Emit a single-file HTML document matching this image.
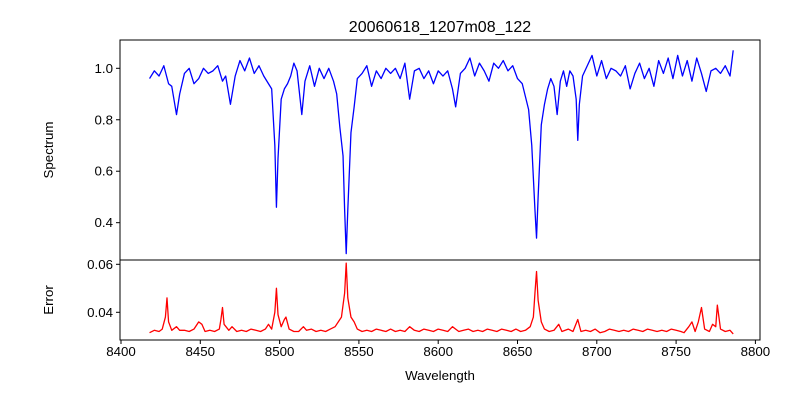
<!DOCTYPE html>
<html><head><meta charset="utf-8"><style>
html,body{margin:0;padding:0;background:#fff;}
svg{display:block;font-family:"Liberation Sans","DejaVu Sans",sans-serif;}
</style></head><body>
<svg id="chart" width="800" height="400" viewBox="0 0 800 400">
<rect width="800" height="400" fill="#fff"/>
<text x="440" y="32" text-anchor="middle" font-size="16">20060618_1207m08_122</text>
<g id="topPanel"></g>
<g id="botPanel"></g>
<text x="440" y="380" text-anchor="middle" font-size="13.3">Wavelength</text>
<text transform="translate(53,150) rotate(-90)" text-anchor="middle" font-size="13.3">Spectrum</text>
<text transform="translate(53,300) rotate(-90)" text-anchor="middle" font-size="13.3">Error</text>
</svg>
<script>
const wave=[8418,8421,8424,8427,8430,8432,8435,8437,8440,8443,8446,8449,8452,8455,8458,8461,8464,8466,8469,8472,8475,8478,8481,8484,8487,8490,8493,8495,8497,8498,8499,8501,8503,8505,8507,8509,8511,8514,8516,8519,8522,8525,8528,8531,8534,8536,8538,8540,8541,8542,8543,8545,8547,8549,8552,8555,8558,8561,8564,8567,8570,8573,8576,8579,8582,8585,8588,8591,8594,8597,8600,8603,8606,8609,8611,8614,8617,8620,8623,8626,8629,8632,8635,8638,8641,8644,8647,8650,8653,8655,8657,8659,8661,8662,8663,8665,8667,8669,8671,8673,8675,8677,8679,8681,8683,8685,8687,8688,8689,8691,8694,8697,8700,8703,8706,8709,8712,8715,8718,8721,8724,8727,8730,8733,8736,8739,8742,8745,8748,8751,8754,8757,8760,8763,8766,8769,8772,8775,8778,8781,8784,8786];
const flux=[0.96,0.99,0.97,1.01,0.94,0.93,0.82,0.90,0.98,1.00,0.94,0.96,1.00,0.98,0.99,1.01,0.95,0.97,0.86,0.97,1.03,0.99,1.04,0.98,1.01,0.97,0.94,0.92,0.70,0.46,0.65,0.88,0.92,0.94,0.97,1.02,0.99,0.82,0.95,1.01,0.93,1.00,0.96,1.00,0.95,0.90,0.77,0.66,0.45,0.28,0.45,0.75,0.85,0.96,0.98,1.01,0.93,0.99,0.96,1.00,0.98,1.00,0.96,1.02,0.88,0.99,1.00,0.96,0.99,0.94,0.99,0.97,0.99,0.92,0.85,0.98,1.00,1.04,0.97,1.02,0.99,0.95,1.02,1.00,1.03,0.99,1.01,0.96,0.94,0.89,0.84,0.70,0.45,0.34,0.50,0.78,0.86,0.92,0.96,0.93,0.82,0.95,0.99,0.93,0.99,0.97,0.88,0.72,0.86,0.97,1.01,1.05,0.97,1.03,0.96,1.00,0.99,0.97,1.01,0.92,0.98,1.02,0.96,1.00,0.93,1.03,0.98,1.04,0.96,1.05,0.97,1.03,0.95,1.04,0.98,0.91,0.99,1.00,0.98,1.01,0.97,1.07];
const errWave=[8418,8421,8424,8426,8428,8429,8430,8432,8435,8437,8440,8443,8446,8449,8451,8453,8456,8459,8462,8463,8464,8465,8468,8470,8473,8476,8479,8482,8485,8488,8491,8493,8495,8497,8498,8499,8501,8503,8504,8506,8509,8512,8515,8517,8520,8523,8526,8529,8532,8535,8537,8539,8541,8542,8543,8545,8547,8549,8552,8555,8558,8561,8564,8567,8570,8573,8576,8579,8582,8585,8588,8591,8594,8597,8600,8603,8606,8609,8611,8613,8616,8619,8622,8625,8628,8631,8634,8637,8640,8643,8646,8649,8652,8655,8658,8660,8661,8662,8663,8665,8667,8670,8673,8676,8678,8682,8685,8688,8690,8693,8696,8699,8702,8705,8708,8711,8714,8717,8720,8723,8726,8729,8732,8735,8738,8741,8744,8747,8750,8753,8755,8758,8760,8762,8764,8766,8768,8771,8773,8775,8776,8778,8781,8784,8786];
const err=[0.0315,0.0325,0.032,0.033,0.038,0.046,0.036,0.0325,0.034,0.0325,0.0325,0.032,0.033,0.036,0.035,0.032,0.0325,0.032,0.033,0.037,0.042,0.035,0.0325,0.034,0.032,0.0325,0.032,0.033,0.0325,0.032,0.033,0.035,0.033,0.040,0.050,0.039,0.034,0.037,0.038,0.033,0.032,0.032,0.034,0.0325,0.033,0.032,0.0325,0.032,0.033,0.034,0.036,0.038,0.048,0.0605,0.046,0.038,0.036,0.033,0.032,0.0325,0.032,0.033,0.0325,0.032,0.033,0.032,0.0325,0.032,0.034,0.0325,0.032,0.033,0.0325,0.032,0.033,0.0325,0.032,0.034,0.033,0.032,0.0325,0.033,0.032,0.0325,0.032,0.033,0.0325,0.032,0.033,0.0325,0.032,0.033,0.032,0.0325,0.034,0.038,0.048,0.057,0.045,0.036,0.033,0.032,0.0325,0.035,0.032,0.033,0.032,0.037,0.032,0.0325,0.032,0.033,0.0315,0.032,0.033,0.0325,0.032,0.0325,0.032,0.033,0.0325,0.032,0.033,0.0325,0.032,0.0325,0.032,0.033,0.0325,0.032,0.0315,0.034,0.036,0.032,0.036,0.042,0.033,0.032,0.035,0.034,0.043,0.033,0.032,0.0325,0.031];
const xTicks=[8400,8450,8500,8550,8600,8650,8700,8750,8800];
const fluxTicks=[0.4,0.6,0.8,1.0];
const errTicks=[0.04,0.06];

const L=120,R=760,T1=40,B1=260,T2=260,B2=340;
const X=w=>121+(w-8400)*1.586;
const Y1=v=>68.3+(1.0-v)*257.3;
const Y2=v=>312.3-(v-0.04)*2400;
const NS='http://www.w3.org/2000/svg';
function mk(tag,attrs,parent){const e=document.createElementNS(NS,tag);for(const k in attrs)e.setAttribute(k,attrs[k]);parent.appendChild(e);return e;}
const gTop=document.getElementById('topPanel'),gBot=document.getElementById('botPanel');
let d=wave.map((w,i)=>(i?'L':'M')+X(w).toFixed(2)+' '+Y1(flux[i]).toFixed(2)).join('');
const fl=mk('path',{d:d,fill:'none',stroke:'#0000ff','stroke-width':1.3,'stroke-linejoin':'round'},gTop);


d=errWave.map((w,i)=>(i?'L':'M')+X(w).toFixed(2)+' '+Y2(err[i]).toFixed(2)).join('');
const el=mk('path',{d:d,fill:'none',stroke:'#ff0000','stroke-width':1.3,'stroke-linejoin':'round'},gBot);


const f1=mk('rect',{x:L,y:T1,width:R-L,height:B1-T1,fill:'none',stroke:'#000','stroke-width':1},gTop);


const f2=mk('rect',{x:L,y:T2,width:R-L,height:B2-T2,fill:'none',stroke:'#000','stroke-width':1},gBot);


fluxTicks.forEach(v=>{const y=Y1(v);
 const t=mk('line',{x1:L-4,x2:L,y1:y,y2:y,stroke:'#000'},gTop);
 
 
 const tx=mk('text',{x:L-7,y:y+4.5,'text-anchor':'end','font-size':13.3},gTop);tx.textContent=v.toFixed(1);
 
 });
errTicks.forEach(v=>{const y=Y2(v);
 const t=mk('line',{x1:L-4,x2:L,y1:y,y2:y,stroke:'#000'},gBot);
 
 
 const tx=mk('text',{x:L-7,y:y+4.5,'text-anchor':'end','font-size':13.3},gBot);tx.textContent=v.toFixed(2);
 
 });
xTicks.forEach(w=>{const x=X(w);
 const t=mk('line',{x1:x,x2:x,y1:B2,y2:B2+4,stroke:'#000'},gBot);
 
 
 const tx=mk('text',{x:x,y:B2+16,'text-anchor':'middle','font-size':13.3},gBot);tx.textContent=w;
 
 });
</script>
</body></html>
